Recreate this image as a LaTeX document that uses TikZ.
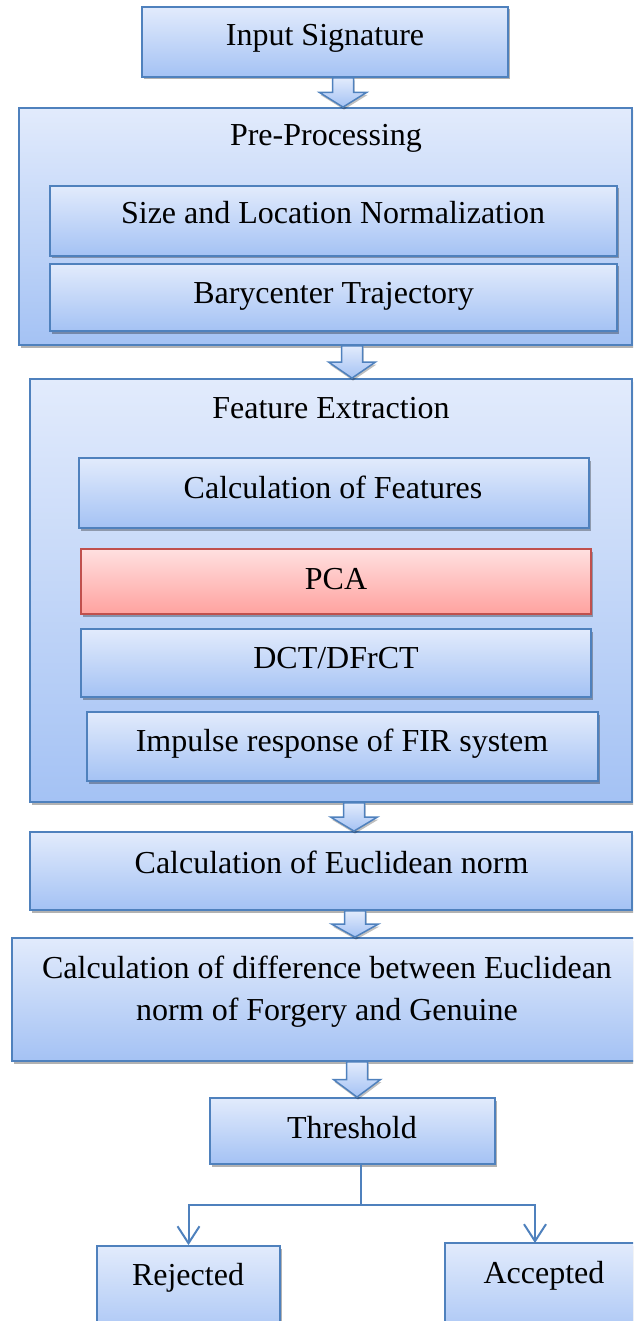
\documentclass[tikz,border=0pt]{standalone}
\usepackage{fontspec}
\setmainfont{Liberation Serif}
\usetikzlibrary{shadows,arrows.meta,calc}
\definecolor{bdr}{HTML}{4F81BD}
\definecolor{btop}{HTML}{E2EBFC}
\definecolor{bbot}{HTML}{A4C2F4}
\definecolor{rtop}{HTML}{FFE0E0}
\definecolor{rbot}{HTML}{FFA29F}
\definecolor{rbdr}{HTML}{C0504D}
\tikzset{
  box/.style={draw=bdr, line width=1.8pt, top color=btop, bottom color=bbot, inner sep=0pt,
    drop shadow={shadow xshift=2pt, shadow yshift=-2.5pt, opacity=0.3, fill=black}},
  redbox/.style={box, draw=rbdr, top color=rtop, bottom color=rbot},
  txt/.style={anchor=base, inner sep=0pt, font=\fontsize{32}{42}\selectfont},
  barr/.style={draw=bdr, line width=1.5pt, line join=miter, top color=btop, bottom color=bbot,
    drop shadow={shadow xshift=1pt, shadow yshift=-2.5pt, opacity=0.25, fill=black}},
  conn/.style={draw=bdr, line width=2pt},
  tip/.style={-{Straight Barb[length=17pt,width=22pt,line width=2pt]}},
}
\newcommand\barrow[3]{%
  \path[barr] let \p1=(#2.south), \p2=(#3.north) in
    ({(#1-10.5)*1pt},\y1) -- ({(#1+10.5)*1pt},\y1)
    -- ({(#1+10.5)*1pt},{\y1+0.5*(\y2-(\y1))}) -- ({(#1+23.5)*1pt},{\y1+0.5*(\y2-(\y1))})
    -- ({#1*1pt},\y2)
    -- ({(#1-23.5)*1pt},{\y1+0.5*(\y2-(\y1))}) -- ({(#1-10.5)*1pt},{\y1+0.5*(\y2-(\y1))})
    -- cycle;}
\begin{document}
\begin{tikzpicture}[x=1pt,y=-1pt]
\useasboundingbox (0,0) rectangle (633,1321);
\clip (0,0) rectangle (633,1321);
% boxes
\node[box, minimum width=366pt, minimum height=70pt] (inp) at (325,42) {};
\node[box, minimum width=613pt, minimum height=237pt] (pre) at (325.5,226.5) {};
\node[box, minimum width=567pt, minimum height=70pt] (size) at (333.5,221) {};
\node[box, minimum width=567pt, minimum height=67pt] (bary) at (333.5,297.5) {};
\node[box, minimum width=602pt, minimum height=423pt] (feat) at (331,590.5) {};
\node[box, minimum width=510pt, minimum height=70pt] (calcf) at (334,493) {};
\node[redbox, minimum width=510pt, minimum height=65pt] (pca) at (336,581.5) {};
\node[box, minimum width=510pt, minimum height=68pt] (dct) at (336,663) {};
\node[box, minimum width=511pt, minimum height=69pt] (imp) at (342.5,746.5) {};
\node[box, minimum width=602pt, minimum height=78pt] (euc) at (331,871) {};
\node[box, minimum width=630pt, minimum height=123pt] (diff) at (327,999.5) {};
\node[box, minimum width=285pt, minimum height=66pt] (thr) at (352.5,1131) {};
\node[box, minimum width=183pt, minimum height=99pt] (rej) at (188.5,1295.5) {};
\node[box, minimum width=198pt, minimum height=102pt] (acc) at (544,1294) {};
% texts
\node[txt] (tinp) at (325,46) {Input Signature};
\node[txt] (tpre) at (326,146) {Pre-Processing};
\node[txt] (tsize) at (333,224) {Size and Location Normalization};
\node[txt] (tbary) at (333.5,303) {Barycenter Trajectory};
\node[txt] (tfeat) at (331,418) {Feature Extraction};
\node[txt] (tcalcf) at (333,498) {Calculation of Features};
\node[txt] (tpca) at (336,589) {PCA};
\node[txt] (tdct) at (336,668) {DCT/DFrCT};
\node[txt] (timp) at (342,751) {Impulse response of FIR system};
\node[txt] (teuc) at (331.5,873) {Calculation of Euclidean norm};
\node[txt] (tdiffa) at (327,978) {Calculation of difference between Euclidean};
\node[txt] (tdiffb) at (327,1020) {norm of Forgery and Genuine};
\node[txt] (tthr) at (352,1138) {Threshold};
\node[txt] (trej) at (188,1285) {Rejected};
\node[txt] (tacc) at (544,1283) {Accepted};
% block arrows
\barrow{343}{inp}{pre}
\barrow{352}{pre}{feat}
\barrow{354}{feat}{euc}
\barrow{355}{euc}{diff}
\barrow{357}{diff}{thr}
% branch
\coordinate (br) at (361,1205);
\coordinate (accin) at (535,1243);
\draw[conn] (thr.south -| br) -- (br);
\draw[conn, tip] (br) -| (rej.north);
\draw[conn, tip] (br) -| (accin);
\end{tikzpicture}
\end{document}
